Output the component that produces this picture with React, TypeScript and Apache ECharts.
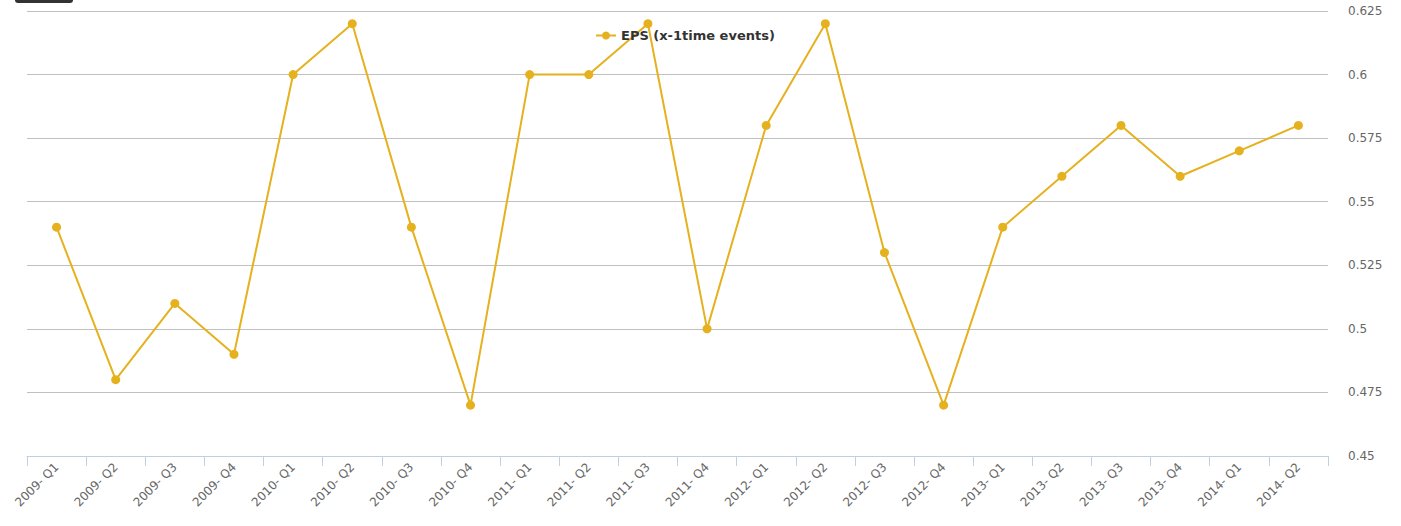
import React, { useEffect, useRef } from "react";
import * as echarts from "echarts";

const categories = [
  "2009- Q1", "2009- Q2", "2009- Q3", "2009- Q4",
  "2010- Q1", "2010- Q2", "2010- Q3", "2010- Q4",
  "2011- Q1", "2011- Q2", "2011- Q3", "2011- Q4",
  "2012- Q1", "2012- Q2", "2012- Q3", "2012- Q4",
  "2013- Q1", "2013- Q2", "2013- Q3", "2013- Q4",
  "2014- Q1", "2014- Q2",
];
const epsValues = [
  0.54, 0.48, 0.51, 0.49,
  0.60, 0.62, 0.54, 0.47,
  0.60, 0.60, 0.62, 0.50,
  0.58, 0.62, 0.53, 0.47,
  0.54, 0.56, 0.58, 0.56,
  0.57, 0.58,
];
const seriesName = "EPS (x-1time events)";

export default function App() {
  const ref = useRef<HTMLDivElement>(null);
  useEffect(() => {
    if (!ref.current) return;
    const chart = echarts.init(ref.current, null, { renderer: "svg" });
    chart.setOption({
      animation: false,
      backgroundColor: "#ffffff",
      textStyle: { fontFamily: "DejaVu Sans" },
      legend: {
        top: 24,
        left: 590,
        itemWidth: 20,
        itemHeight: 10,
        itemGap: 8,
        textStyle: { fontSize: 13, fontWeight: "bold", color: "#333333", fontFamily: "DejaVu Sans" },
        data: [seriesName],
      },
      grid: { left: 27, right: 73, top: 11, bottom: 70, containLabel: false },
      xAxis: {
        type: "category",
        data: categories,
        boundaryGap: true,
        axisLine: { show: true, lineStyle: { color: "#c0d0e0", width: 1 } },
        axisTick: { show: true, length: 10, lineStyle: { color: "#c0d0e0" }, alignWithLabel: false },
        axisLabel: {
          interval: 0,
          rotate: 45,
          fontSize: 12,
          color: "#666666",
          margin: 9,
          fontFamily: "DejaVu Sans",
        },
        splitLine: { show: false },
      },
      yAxis: {
        type: "value",
        position: "right",
        min: 0.45,
        max: 0.625,
        interval: 0.025,
        axisLine: { show: false },
        axisTick: { show: false },
        axisLabel: {
          fontSize: 12,
          color: "#666666",
          margin: 20,
          fontFamily: "DejaVu Sans",
          formatter: (v: number) => String(parseFloat(v.toFixed(3))),
        },
        splitLine: { show: true, lineStyle: { color: "#c0c0c0", width: 1 } },
      },
      graphic: [
        {
          type: "rect",
          shape: { x: 15, y: -6, width: 58, height: 9, r: 3 },
          style: { fill: "#333333" },
        },
      ],
      series: [
        {
          name: seriesName,
          type: "line",
          data: epsValues,
          symbol: "circle",
          symbolSize: 9,
          color: "#e6b11e",
          lineStyle: { width: 2, color: "#e6b11e" },
          itemStyle: { color: "#e6b11e" },
        },
      ],
    });
    return () => chart.dispose();
  }, []);
  return (
    <div
      ref={ref}
      style={{ position: "fixed", left: 0, top: 0, width: 1401, height: 526 }}
    />
  );
}
